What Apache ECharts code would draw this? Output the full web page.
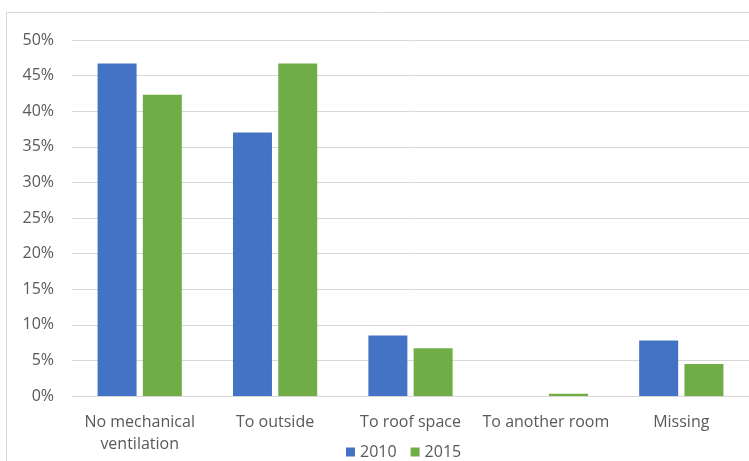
<!DOCTYPE html>
<html>
<head>
<meta charset="utf-8">
<script src="https://cdn.jsdelivr.net/npm/echarts@6/dist/echarts.min.js"></script>
<style>
  html, body { margin: 0; padding: 0; background: #fff; }
  #main { width: 749px; height: 461px; }
</style>
</head>
<body>
<div id="main"></div>
<script>
// categories and values (percent)
const categories = ['No mechanical\nventilation', 'To outside', 'To roof space', 'To another room', 'Missing'];
const values2010 = [46.7, 37.0, 8.5, 0, 7.8];
const values2015 = [42.3, 46.7, 6.7, 0.3, 4.5];
const seriesNames = ['2010', '2015'];

const font = '"Open Sans", sans-serif';
const chart = echarts.init(document.getElementById('main'));

chart.setOption({
  backgroundColor: '#fff',
  color: ['#4472C4', '#70AD47'],
  animation: false,
  graphic: [{
    // outer chart frame (left + top visible)
    type: 'rect',
    shape: { x: 6.5, y: 12.5, width: 760, height: 470 },
    style: { fill: 'none', stroke: '#D9D9D9', lineWidth: 1 },
    silent: true
  }],
  grid: { left: 72, top: 40, width: 680, height: 356 },
  legend: {
    data: seriesNames,
    top: 439,
    left: 341,
    itemWidth: 9,
    itemHeight: 9,
    itemGap: 14,
    icon: 'rect',
    textStyle: { fontFamily: font, fontSize: 16, color: '#595959' }
  },
  xAxis: {
    type: 'category',
    data: categories,
    axisLine: { lineStyle: { color: '#D9D9D9', width: 1 } },
    axisTick: { show: false },
    axisLabel: {
      fontFamily: font, fontSize: 16, color: '#595959',
      margin: 15, lineHeight: 22, interval: 0
    }
  },
  yAxis: {
    type: 'value',
    min: 0,
    max: 50,
    interval: 5,
    axisLine: { show: false },
    axisTick: { show: false },
    splitLine: { lineStyle: { color: '#D9D9D9', width: 1 } },
    axisLabel: {
      fontFamily: font, fontSize: 16, color: '#595959', margin: 18,
      formatter: v => v + '%'
    }
  },
  series: [{
    name: seriesNames[0],
    type: 'bar',
    data: values2010,
    barWidth: 39,
    barGap: '16%'
  }, {
    name: seriesNames[1],
    type: 'bar',
    data: values2015,
    barWidth: 39,
    barGap: '16%'
  }]
});
</script>
</body>
</html>
